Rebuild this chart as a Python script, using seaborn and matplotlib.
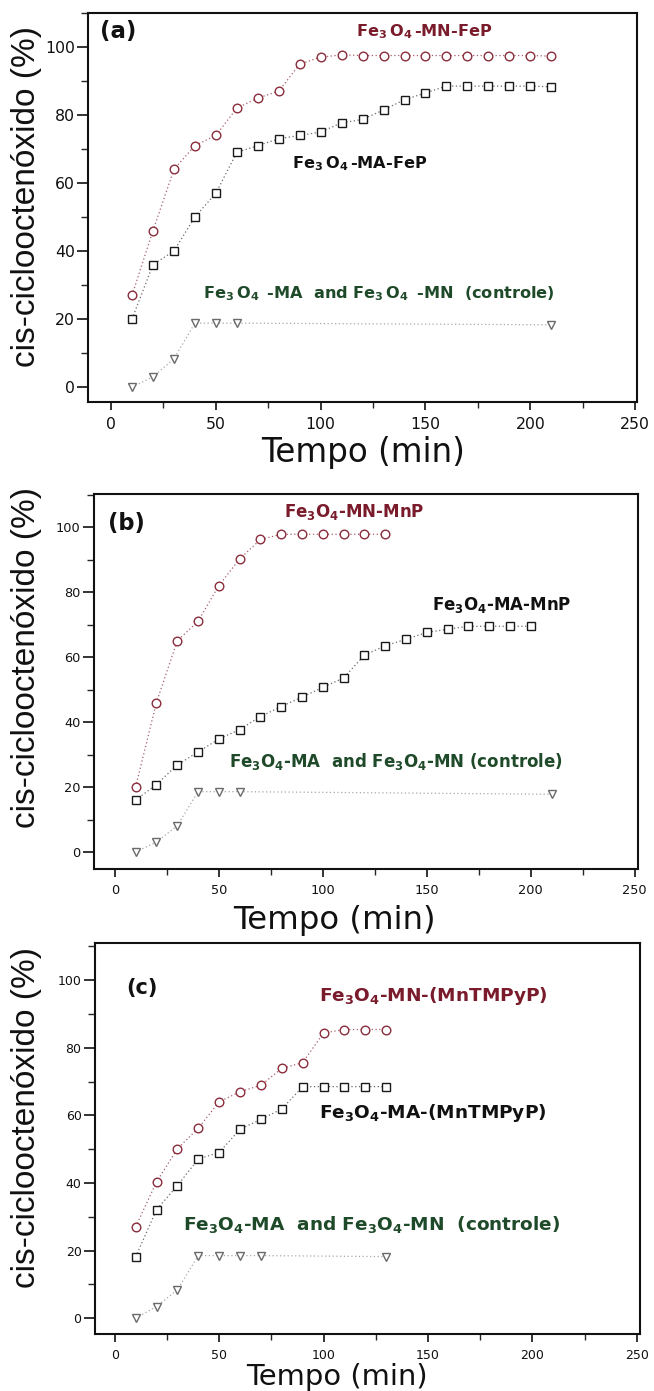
import matplotlib
matplotlib.use("Agg")
import matplotlib.pyplot as plt
from matplotlib.ticker import MultipleLocator
import seaborn as sns

# ---------------- data ----------------
# panel (a)
t_a_mn = [10, 20, 30, 40, 50, 60, 70, 80, 90, 100, 110, 120, 130, 140, 150, 160, 170, 180, 190, 200, 210]
y_a_mn = [27, 46, 64, 71, 74, 82, 85, 87, 95, 97, 97.7, 97.5, 97.5, 97.5, 97.5, 97.5, 97.5, 97.5, 97.5, 97.5, 97.3]
t_a_ma = [10, 20, 30, 40, 50, 60, 70, 80, 90, 100, 110, 120, 130, 140, 150, 160, 170, 180, 190, 200, 210]
y_a_ma = [20, 36, 40, 50, 57, 69, 71, 73, 74, 75, 77.7, 78.7, 81.5, 84.5, 86.5, 88.5, 88.5, 88.5, 88.5, 88.5, 88.3]
t_a_ct = [10, 20, 30, 40, 50, 60, 210]
y_a_ct = [0, 3, 8.3, 18.8, 18.8, 18.8, 18.3]

# panel (b)
t_b_mn = [10, 20, 30, 40, 50, 60, 70, 80, 90, 100, 110, 120, 130]
y_b_mn = [20, 46, 65, 71, 82, 90.2, 96.2, 97.8, 97.8, 97.8, 97.8, 97.8, 97.8]
t_b_ma = [10, 20, 30, 40, 50, 60, 70, 80, 90, 100, 110, 120, 130, 140, 150, 160, 170, 180, 190, 200]
y_b_ma = [16, 20.8, 26.8, 30.8, 34.8, 37.7, 41.7, 44.8, 47.7, 50.7, 53.6, 60.6, 63.5, 65.5, 67.6, 68.6, 69.5, 69.5, 69.5, 69.5]
t_b_ct = [10, 20, 30, 40, 50, 60, 210]
y_b_ct = [0, 3.1, 8.1, 18.6, 18.6, 18.6, 17.8]

# panel (c)
t_c_mn = [10, 20, 30, 40, 50, 60, 70, 80, 90, 100, 110, 120, 130]
y_c_mn = [27, 40.3, 50.1, 56.2, 64, 67, 68.9, 73.9, 75.6, 84.4, 85.4, 85.4, 85.4]
t_c_ma = [10, 20, 30, 40, 50, 60, 70, 80, 90, 100, 110, 120, 130]
y_c_ma = [18.1, 32.1, 39.2, 47.1, 49, 55.9, 58.8, 61.9, 68.5, 68.5, 68.5, 68.5, 68.5]
t_c_ct = [10, 20, 30, 40, 50, 60, 70, 130]
y_c_ct = [0, 3.4, 8.4, 18.5, 18.5, 18.5, 18.5, 18.2]

x_ticks = [0, 50, 100, 150, 200, 250]
y_ticks = [0, 20, 40, 60, 80, 100]

lab_a = [r"Fe$_{3}\,$O$_{4}\,$-MN-FeP", r"Fe$_{3}\,$O$_{4}\,$-MA-FeP",
         r"Fe$_{3}\,$O$_{4}\,$ -MA  and Fe$_{3}\,$O$_{4}\,$ -MN  (controle)"]
lab_b = [r"Fe$_3$O$_4$-MN-MnP", r"Fe$_3$O$_4$-MA-MnP",
         r"Fe$_3$O$_4$-MA  and Fe$_3$O$_4$-MN (controle)"]
lab_c = [r"Fe$_3$O$_4$-MN-(MnTMPyP)", r"Fe$_3$O$_4$-MA-(MnTMPyP)",
         r"Fe$_3$O$_4$-MA  and Fe$_3$O$_4$-MN  (controle)"]

# ---------------- style ----------------
sns.set_theme(style="ticks")
plt.rcParams["font.family"] = ["DejaVu Sans"]
plt.rcParams["mathtext.fontset"] = "custom"
plt.rcParams["mathtext.rm"] = "DejaVu Sans:bold"
plt.rcParams["mathtext.it"] = "DejaVu Sans:bold"
plt.rcParams["mathtext.bf"] = "DejaVu Sans:bold"
plt.rcParams["mathtext.default"] = "rm"

C_MN = "#8a2c3b"
C_MA = "#1a1a1a"
C_CT = "#6a6a6a"
L_MN = "#a5606c"
L_MA = "#6a6a6a"
L_CT = "#a8a8a8"
T_MN = "#7a1b2c"
T_MA = "#111111"
T_CT = "#1f4a2a"

fig = plt.figure(figsize=(6.54, 13.91), dpi=100)

panels = [
    dict(rect=[88, 637, 13, 402], xlim=(-11, 250.9), ylim=(-4.4, 110),
         mn=(t_a_mn, y_a_mn), ma=(t_a_ma, y_a_ma), ct=(t_a_ct, y_a_ct),
         labels=lab_a, tag="(a)", tagpos=(-5.4, 102.6), tagsize=16.5,
         lpos=[(116.9, 103.2), (86.2, 64.4), (43.7, 26.2)], lsize=11.6,
         tick=11.3, xl=23.5, xlab=(363, 462), ylab=(27, 196.5)),
    dict(rect=[94, 637.5, 494, 869], xlim=(-10, 251.3), ylim=(-5.2, 110.2),
         mn=(t_b_mn, y_b_mn), ma=(t_b_ma, y_b_ma), ct=(t_b_ct, y_b_ct),
         labels=lab_b, tag="(b)", tagpos=(-3.5, 99.1), tagsize=16.3,
         lpos=[(81.5, 103), (152.3, 74.5), (55.1, 26.2)], lsize=12,
         tick=9.3, xl=23.3, xlab=(334.5, 929), ylab=(27, 657)),
    dict(rect=[94.7, 640.4, 943, 1334], xlim=(-9.6, 251.7), ylim=(-4.7, 111),
         mn=(t_c_mn, y_c_mn), ma=(t_c_ma, y_c_ma), ct=(t_c_ct, y_c_ct),
         labels=lab_c, tag="(c)", tagpos=(5.4, 96), tagsize=15,
         lpos=[(98, 93.8), (98, 59.2), (32.5, 26)], lsize=13.3,
         tick=9, xl=20.9, xlab=(336.5, 1385), ylab=(27, 1117)),
]

W, H = 654.0, 1391.0
for p in panels:
    l, r, t, b = p["rect"]
    ax = fig.add_axes([l / W, 1 - b / H, (r - l) / W, (b - t) / H])
    series = [(p["mn"], L_MN, C_MN, "o", 6.2),
              (p["ma"], L_MA, C_MA, "s", 5.2),
              (p["ct"], L_CT, C_CT, "v", 6.2)]
    for (xs, ys), lc, mc, m, ms in series:
        sns.lineplot(x=xs, y=ys, ax=ax, color=lc, marker=m, markersize=ms,
                     markerfacecolor="white", markeredgecolor=mc, markeredgewidth=1.0,
                     linestyle=(0, (1, 2)), linewidth=0.9, alpha=1.0, sort=False)
    ax.set_xlim(*p["xlim"])
    ax.set_ylim(*p["ylim"])
    ax.set_xticks(x_ticks)
    ax.set_yticks(y_ticks)
    ax.xaxis.set_minor_locator(MultipleLocator(25))
    ax.yaxis.set_minor_locator(MultipleLocator(10))
    ax.tick_params(which="major", direction="out", width=1.2, labelsize=p["tick"],
                   colors="#111111", top=False, right=False)
    ax.tick_params(axis="x", which="major", length=6, pad=5)
    ax.tick_params(axis="y", which="major", length=8, pad=1.5)
    ax.tick_params(axis="x", which="minor", length=4, width=1.0, top=False)
    ax.tick_params(axis="y", which="minor", length=5, width=1.0, right=False)
    for s in ax.spines.values():
        s.set_visible(True)
        s.set_linewidth(1.5)
        s.set_color("#111111")
    ax.set_xlabel("")
    ax.set_ylabel("")

    # annotation texts
    for txt, pos, col in zip(p["labels"], p["lpos"], [T_MN, T_MA, T_CT]):
        ax.text(pos[0], pos[1], txt, color=col, fontsize=p["lsize"], fontweight="bold",
                ha="left", va="baseline")
    ax.text(p["tagpos"][0], p["tagpos"][1], p["tag"], fontsize=p["tagsize"], fontweight="bold",
            color="#111111", ha="left", va="baseline")

    # axis labels (figure coordinates)
    fig.text(p["xlab"][0] / W, 1 - p["xlab"][1] / H, "Tempo (min)", fontsize=p["xl"],
             ha="center", va="baseline", color="#111111")
    fig.text(p["ylab"][0] / W, 1 - p["ylab"][1] / H, "cis-ciclooctenóxido (%)",
             fontsize=24, rotation=90, ha="center", va="center", color="#111111",
             family=["Liberation Sans", "DejaVu Sans"])

fig.savefig("out.png", dpi=100)
